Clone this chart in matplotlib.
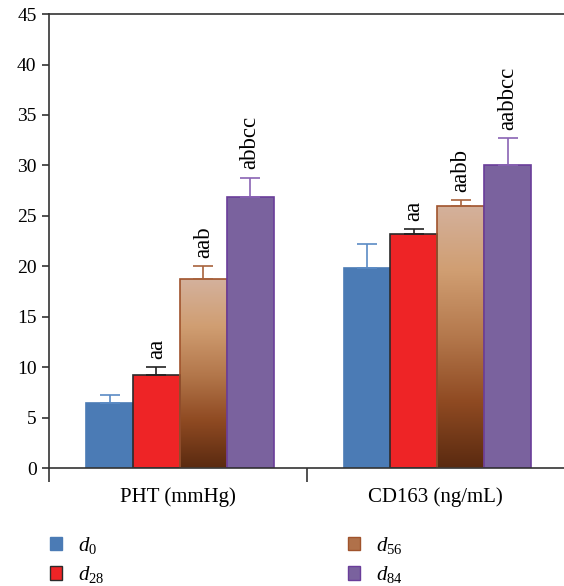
import numpy as np
import matplotlib
matplotlib.use("Agg")
import matplotlib.pyplot as plt
from matplotlib.colors import LinearSegmentedColormap
from matplotlib.patches import Patch

plt.rcParams['font.family'] = ['Liberation Serif', 'DejaVu Serif']
plt.rcParams['mathtext.fontset'] = 'custom'
plt.rcParams['mathtext.rm'] = 'Liberation Serif'
plt.rcParams['mathtext.it'] = 'Liberation Serif:italic'

# data
categories = ["PHT (mmHg)", "CD163 (ng/mL)"]
series = ["$d_{0}$", "$d_{28}$", "$d_{56}$", "$d_{84}$"]
means = [
    [6.5, 19.8],   # d0
    [9.2, 23.2],   # d28
    [18.7, 26.0],  # d56
    [26.9, 30.0],  # d84
]
errors = [
    [0.8, 2.4],
    [0.8, 0.5],
    [1.3, 0.6],
    [1.9, 2.7],
]
letters = [
    ["", ""],
    ["aa", "aa"],
    ["aab", "aabb"],
    ["abbcc", "aabbcc"],
]

fills = ["#4b7bb5", "#ee2426", None, "#7a629e"]
edges = ["#4b7bb5", "#2b2b2b", "#a0532c", "#6a3d9a"]
errcols = ["#5b8bc5", "#222222", "#a8623c", "#8a64b4"]
grad = LinearSegmentedColormap.from_list(
    "brown", ["#d4b19c", "#d09e72", "#b4784c", "#8f4a22", "#5a2a10"])

fig = plt.figure(figsize=(5.64, 5.86), dpi=100)
ax = fig.add_axes([0.087, 0.201, 0.913, 0.775])

x = np.arange(len(categories))
w = 0.182
off = 0.008
for i in range(len(series)):
    xs = x + (i - 1.5) * w + off
    bars = ax.bar(xs, means[i], w, color=fills[i] if fills[i] else "none",
                  edgecolor=edges[i], linewidth=1.2, zorder=2)
    if fills[i] is None:
        g = np.linspace(0, 1, 256).reshape(-1, 1)
        for b in bars:
            bx, by = b.get_x(), b.get_y()
            im = ax.imshow(g, cmap=grad, aspect='auto', zorder=1.5,
                           extent=[bx, bx + b.get_width(), by, by + b.get_height()],
                           origin='upper')
            im.set_clip_path(b)
    ax.errorbar(xs, means[i], yerr=[np.zeros(2), errors[i]], fmt='none',
                ecolor=errcols[i], elinewidth=1.2, capsize=7, capthick=1.2, zorder=3)
    for j in range(len(categories)):
        if letters[i][j]:
            ax.text(xs[j], means[i][j] + errors[i][j] + 0.8, letters[i][j],
                    rotation=90, ha='center', va='bottom', fontsize=16.5)

ax.set_xlim(-0.5, 1.5)
ax.set_ylim(0, 45)
ax.set_yticks(np.arange(0, 46, 5))
ax.set_xticks(x)
ax.set_xticklabels(categories, fontsize=15)
ax.set_xticks([-0.5, 0.5], minor=True)
ax.tick_params(axis='x', which='major', length=0, pad=14)
ax.tick_params(axis='x', which='minor', length=10, width=1.2, direction='out',
               color='#333333')
ax.tick_params(axis='y', length=5, width=1.2, labelsize=14, pad=4, color='#333333')
ax.spines['right'].set_visible(False)
for s in ['left', 'bottom', 'top']:
    ax.spines[s].set_color('#333333')
    ax.spines[s].set_linewidth(1.2)

handles = [
    Patch(facecolor=fills[0], edgecolor=fills[0]),
    Patch(facecolor=fills[1], edgecolor="#2b2b2b"),
    Patch(facecolor="#b0714a", edgecolor=edges[2]),
    Patch(facecolor=fills[3], edgecolor=edges[3]),
]
fig.legend(handles, series, loc='upper left', bbox_to_anchor=(0.088, 0.087),
           ncol=2, frameon=False, fontsize=15, handlelength=0.6, handleheight=0.6,
           handletextpad=0.75, columnspacing=11.7, labelspacing=0.4, borderpad=0,
           borderaxespad=0)

fig.savefig("out.png", dpi=100)
